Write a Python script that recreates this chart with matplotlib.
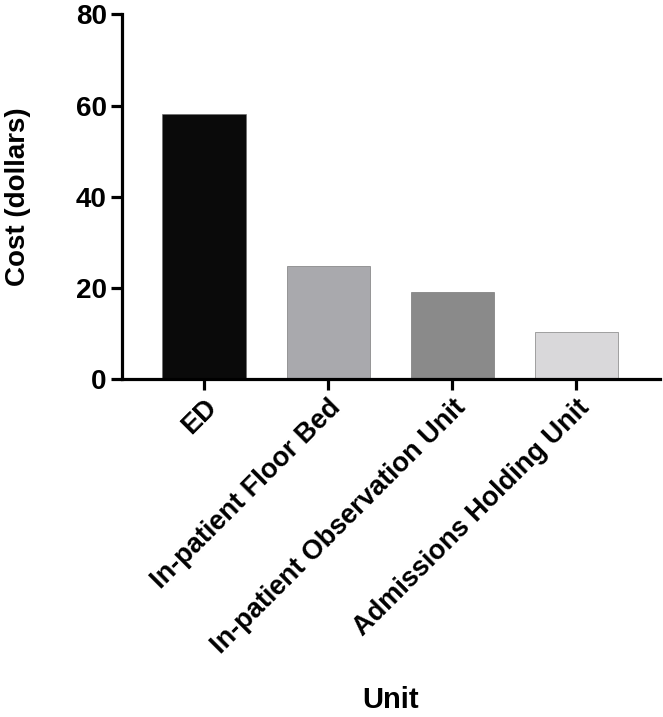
#!/usr/bin/env python3
# bar chart of cost per unit
import matplotlib
matplotlib.use('Agg')
import matplotlib.pyplot as plt

units = ['ED', 'In-patient Floor Bed', 'In-patient Observation Unit',
         'Admissions Holding Unit']
cost = [58.2, 24.9, 19.2, 10.4]
colors = ['#0a0a0a', '#a9a9ad', '#8a8a8a', '#d9d8da']

plt.rcParams['font.family'] = ['Liberation Sans', 'DejaVu Sans']
plt.rcParams['font.weight'] = 'bold'

fig = plt.figure(figsize=(6.63, 7.17), dpi=100)
ax = fig.add_axes([0.184, 0.471, 0.811, 0.509])

x = range(len(units))
ax.bar(x, cost, width=0.67, color=colors, edgecolor='#666666', linewidth=0.4)

ax.set_xlim(-0.66, 3.67)
ax.set_ylim(0, 80)
ax.set_yticks([0, 20, 40, 60, 80])
ax.set_xticks(list(x))
ax.set_xticklabels(units, rotation=45, ha='right', rotation_mode='anchor',
                   fontsize=19.5, fontweight='bold')
for lab in ax.get_yticklabels():
    lab.set_fontsize(20)
    lab.set_fontweight('bold')

for s in ['top', 'right']:
    ax.spines[s].set_visible(False)
for s in ['left', 'bottom']:
    ax.spines[s].set_linewidth(2.3)
ax.tick_params(axis='both', width=2.3, length=8, pad=3)

ax.set_ylabel('Cost (dollars)', fontsize=20, fontweight='bold')
ax.yaxis.set_label_coords(-0.17, 0.5)
ax.set_xlabel('Unit', fontsize=21, fontweight='bold')
ax.xaxis.set_label_coords(0.5, -0.84)

fig.savefig('out.png', dpi=100)
